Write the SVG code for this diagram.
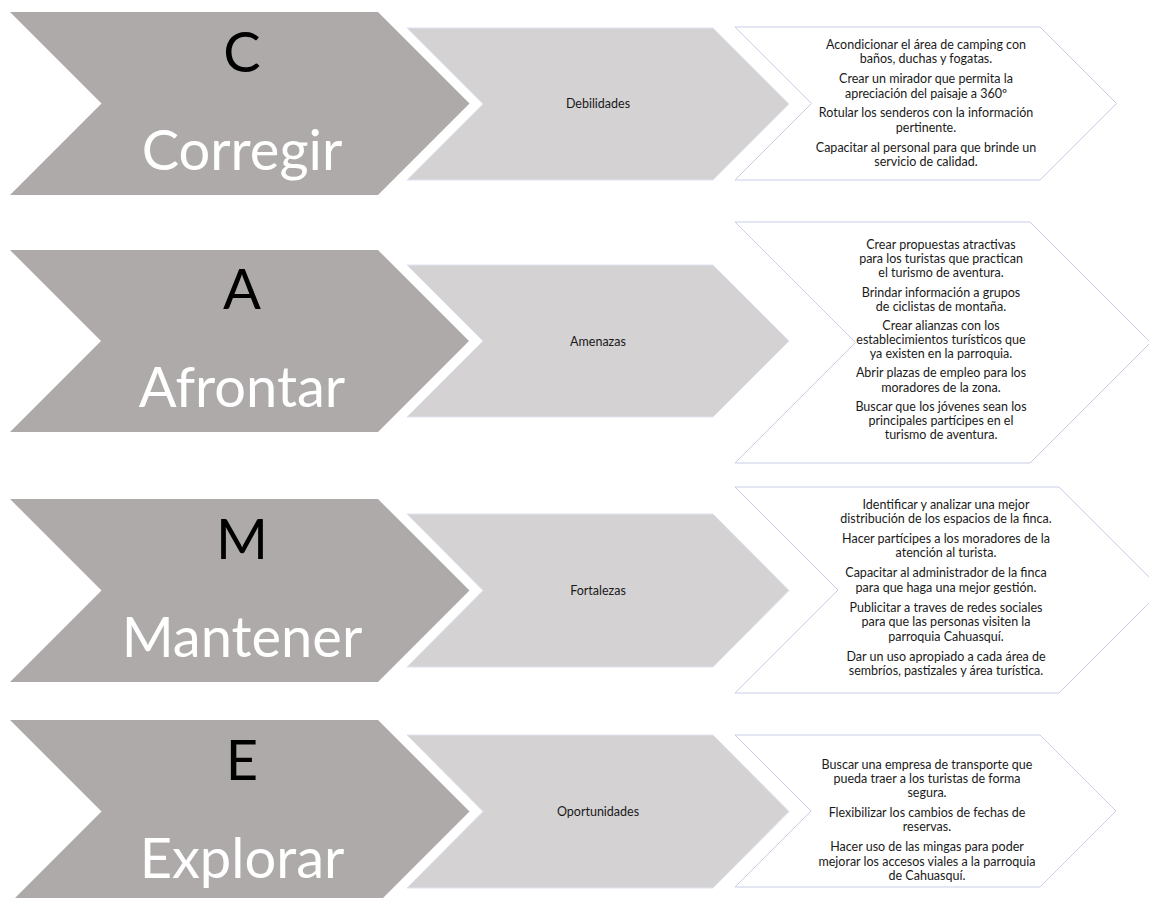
<svg xmlns="http://www.w3.org/2000/svg" width="1149" height="898" viewBox="0 0 1149 898">
<style>
.big{fill:#aeaaa9;stroke:none}
.mid{fill:#d4d2d3;stroke:#dfe2f1;stroke-width:1}
.box{fill:#ffffff;stroke:#c9cee7;stroke-width:1}
.let{font-family:Lato,"Liberation Sans",sans-serif;font-size:56px;fill:#000;text-anchor:middle}
.word{font-family:Lato,"Liberation Sans",sans-serif;font-size:56px;fill:#fff;text-anchor:middle}
.lbl{font-family:Lato,"Liberation Sans",sans-serif;font-size:12.5px;fill:#1a1a1a;text-anchor:middle}
.t{font-family:Lato,"Liberation Sans",sans-serif;font-size:12.5px;fill:#1a1a1a;text-anchor:middle}
</style>
<rect width="1149" height="898" fill="#fff"/>

<g id="row-C">
  <g id="C-head">
    <polygon class="big" points="10,12 378,12 469.5,103.5 378,195 10,195 101.5,103.5"/>
    <text class="let" x="242" y="71.5">C</text>
    <text class="word" x="242" y="169.5">Corregir</text>
  </g>
  <g id="C-mid">
    <polygon class="mid" points="407,28 713,28 789,104 713,180 407,180 483,104"/>
    <text class="lbl" x="598" y="108">Debilidades</text>
  </g>
  <g id="C-actions">
    <polygon class="box" points="735,27 1040,27 1116.5,103.5 1040,180 735,180 811.5,103.5"/>
    <text class="t" x="926" y="48.5">Acondicionar el área de camping con</text>
    <text class="t" x="926" y="62.7">baños, duchas y fogatas.</text>
    <text class="t" x="926" y="83.3">Crear un mirador que permita la</text>
    <text class="t" x="926" y="97.5">apreciación del paisaje a 360º</text>
    <text class="t" x="926" y="117.3">Rotular los senderos con la información</text>
    <text class="t" x="926" y="131.5">pertinente.</text>
    <text class="t" x="926" y="151.8">Capacitar al personal para que brinde un</text>
    <text class="t" x="926" y="166">servicio de calidad.</text>
  </g>
</g>

<g id="row-A">
  <g id="A-head">
    <polygon class="big" points="10,250 378,250 469,341 378,432 10,432 101,341"/>
    <text class="let" x="242" y="309">A</text>
    <text class="word" x="242" y="407">Afrontar</text>
  </g>
  <g id="A-mid">
    <polygon class="mid" points="407,265 713,265 789,341 713,417 407,417 483,341"/>
    <text class="lbl" x="598" y="345.5">Amenazas</text>
  </g>
  <g id="A-actions">
    <polygon class="box" points="735,222 1030,222 1150.5,342.5 1030,463 735,463 855.5,342.5"/>
    <text class="t" x="941" y="248.5">Crear propuestas atractivas</text>
    <text class="t" x="941" y="262.5">para los turistas que practican</text>
    <text class="t" x="941" y="276.5">el turismo de aventura.</text>
    <text class="t" x="941" y="296.5">Brindar información a grupos</text>
    <text class="t" x="941" y="310.5">de ciclistas de montaña.</text>
    <text class="t" x="941" y="329.5">Crear alianzas con los</text>
    <text class="t" x="941" y="343.5">establecimientos turísticos que</text>
    <text class="t" x="941" y="357.5">ya existen en la parroquia.</text>
    <text class="t" x="941" y="377">Abrir plazas de empleo para los</text>
    <text class="t" x="941" y="391.5">moradores de la zona.</text>
    <text class="t" x="941" y="410.5">Buscar que los jóvenes sean los</text>
    <text class="t" x="941" y="424.5">principales partícipes en el</text>
    <text class="t" x="941" y="438.5">turismo de aventura.</text>
  </g>
</g>

<g id="row-M">
  <g id="M-head">
    <polygon class="big" points="10,499 378,499 469.5,590.5 378,682 10,682 101.5,590.5"/>
    <text class="let" x="242" y="558.5">M</text>
    <text class="word" x="242" y="656.5">Mantener</text>
  </g>
  <g id="M-mid">
    <polygon class="mid" points="407,514 713,514 789,590.5 713,667 407,667 483,590.5"/>
    <text class="lbl" x="598" y="594.5">Fortalezas</text>
  </g>
  <g id="M-actions">
    <polygon class="box" points="735,487 1059,487 1162,590 1059,693 735,693 838,590"/>
    <text class="t" x="946" y="508.5">Identificar y analizar una mejor</text>
    <text class="t" x="946" y="522.5">distribución de los espacios de la finca.</text>
    <text class="t" x="946" y="542.5">Hacer partícipes a los moradores de la</text>
    <text class="t" x="946" y="557">atención al turista.</text>
    <text class="t" x="946" y="577">Capacitar al administrador de la finca</text>
    <text class="t" x="946" y="591.5">para que haga una mejor gestión.</text>
    <text class="t" x="946" y="611.5">Publicitar a traves de redes sociales</text>
    <text class="t" x="946" y="626">para que las personas visiten la</text>
    <text class="t" x="946" y="640.5">parroquia Cahuasquí.</text>
    <text class="t" x="946" y="660.5">Dar un uso apropiado a cada área de</text>
    <text class="t" x="946" y="674.5">sembríos, pastizales y área turística.</text>
  </g>
</g>

<g id="row-E">
  <g id="E-head">
    <polygon class="big" points="10,720 378,720 469.5,811.5 378,903 10,903 101.5,811.5"/>
    <text class="let" x="242" y="780">E</text>
    <text class="word" x="242" y="878">Explorar</text>
  </g>
  <g id="E-mid">
    <polygon class="mid" points="407,735 713,735 789,811.5 713,888 407,888 483,811.5"/>
    <text class="lbl" x="598" y="815.5">Oportunidades</text>
  </g>
  <g id="E-actions">
    <polygon class="box" points="735,735 1040,735 1116,811 1040,887 735,887 811,811"/>
    <text class="t" x="927" y="768.5">Buscar una empresa de transporte que</text>
    <text class="t" x="927" y="782.5">pueda traer a los turistas de forma</text>
    <text class="t" x="927" y="796.5">segura.</text>
    <text class="t" x="927" y="816.5">Flexibilizar los cambios de fechas de</text>
    <text class="t" x="927" y="831">reservas.</text>
    <text class="t" x="927" y="851">Hacer uso de las mingas para poder</text>
    <text class="t" x="927" y="865.5">mejorar los accesos viales a la parroquia</text>
    <text class="t" x="927" y="880">de Cahuasquí.</text>
  </g>
</g>
</svg>
